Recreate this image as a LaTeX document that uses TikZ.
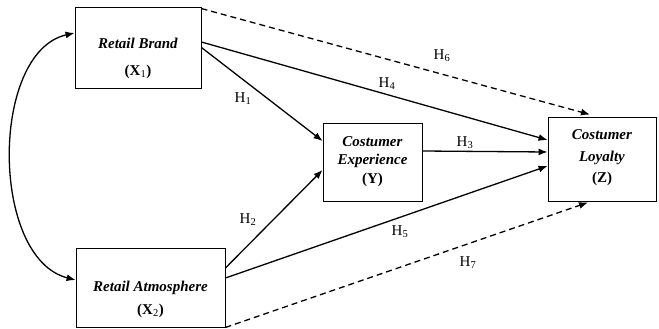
\documentclass[tikz,border=0pt]{standalone}
\usepackage{fontspec}
\setmainfont{Liberation Serif}
\usetikzlibrary{arrows.meta}
\begin{document}
\begin{tikzpicture}[x=1pt,y=-1pt,
  box/.style={draw,line width=0.9pt,inner sep=0pt},
  btext/.style={align=center,inner sep=0pt,font=\fontsize{15}{18}\selectfont\bfseries},
  conn/.style={line width=1.3pt,-{Latex[length=9pt,width=7pt]}},
  dconn/.style={conn,dash pattern=on 6pt off 4pt},
  hlab/.style={font=\fontsize{15}{17}\selectfont,inner sep=0pt}]
\useasboundingbox (0,0) rectangle (659,329);
\node[box,minimum width=126pt,minimum height=81pt] (X1) at (138,47.5) {};
\node[box,minimum width=149pt,minimum height=79pt] (X2) at (150.5,287.5) {};
\node[box,minimum width=99pt,minimum height=78pt] (Y) at (372.5,162) {};
\node[box,minimum width=108pt,minimum height=84pt] (Z) at (602,159) {};
\node[btext] (X1a) at (138,43) {\textit{Retail Brand}};
\node[btext] (X1b) at (138,72) {(X\textsubscript{\mdseries 1})};
\node[btext] (X2a) at (150.5,288) {\textit{Retail Atmosphere}};
\node[btext] (X2b) at (150.5,311) {(X\textsubscript{\mdseries 2})};
\node[btext,font=\fontsize{15}{18.5}\selectfont\bfseries] (Yt) at (372.5,161.5)
  {\textit{Costumer}\\\textit{Experience}\\(Y)};
\node[btext,font=\fontsize{15}{21.5}\selectfont\bfseries] (Zt) at (602,158)
  {\textit{Costumer}\\\textit{Loyalty}\\(Z)};
% correlation curve
\draw[line width=1.3pt,{Latex[length=9pt,width=7pt]}-{Latex[length=9pt,width=7pt]}]
  ([yshift=14.5pt]X1.west) .. controls (-10,52) and (-10,258) .. ([yshift=7.5pt]X2.west);
% paths
\draw[dconn] ([yshift=-2pt]X1.north east) -- ([xshift=-12pt,yshift=2pt]Z.north);
\draw[conn] ([yshift=5.5pt]X1.east) -- ([yshift=19pt]Z.west);
\draw[conn] (X1.east) -- ([yshift=21pt]Y.west);
\draw[conn] ([yshift=11pt]Y.east) -- ([yshift=7pt]Z.west);
\draw[conn] ([yshift=19.5pt]X2.east) -- ([yshift=-8pt]Y.west);
\draw[conn] ([yshift=9.5pt]X2.east) -- ([yshift=-7pt]Z.west);
\draw[dconn] (X2.south east) -- ([xshift=-14pt,yshift=-1pt]Z.south);
% labels
\node[hlab] (h6) at (442,56) {H\textsubscript{6}};
\node[hlab] (h4) at (387,84) {H\textsubscript{4}};
\node[hlab] (h1) at (243,99) {H\textsubscript{1}};
\node[hlab] (h3) at (465,143) {H\textsubscript{3}};
\node[hlab] (h2) at (248,220) {H\textsubscript{2}};
\node[hlab] (h5) at (400,232) {H\textsubscript{5}};
\node[hlab] (h7) at (468,263) {H\textsubscript{7}};
\end{tikzpicture}
\end{document}
